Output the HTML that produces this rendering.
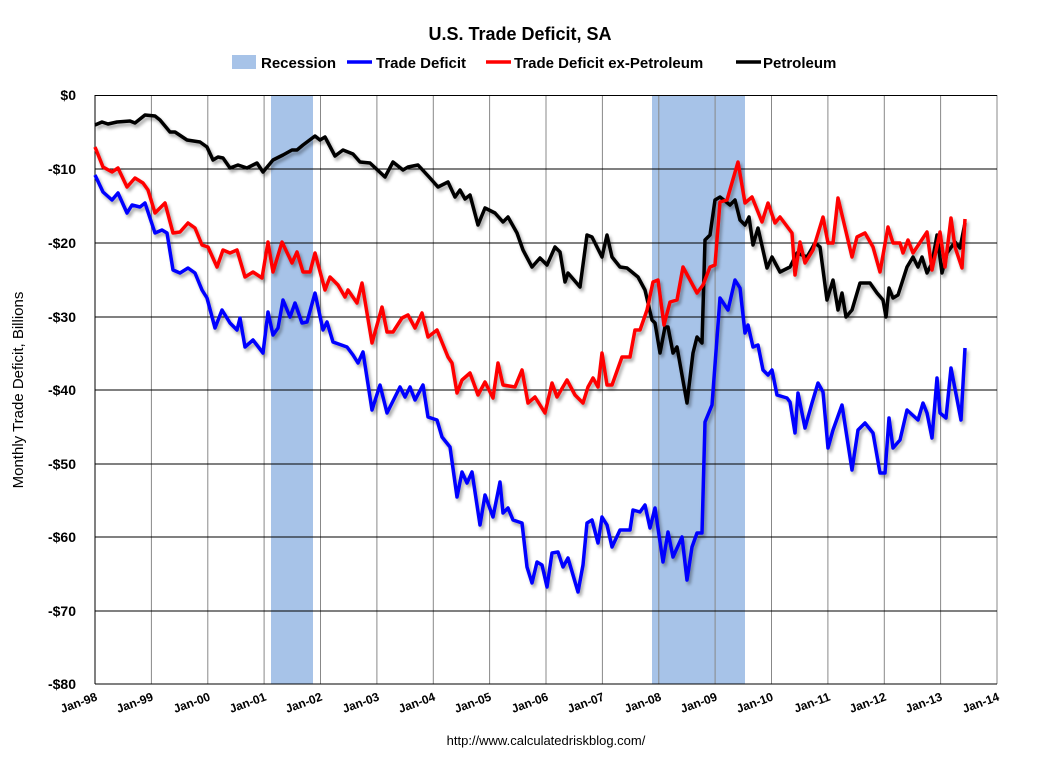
<!DOCTYPE html>
<html><head><meta charset="utf-8"><style>
html,body{margin:0;padding:0;background:#fff;}
svg{display:block;font-family:"Liberation Sans",Arial,sans-serif;}
</style></head><body>
<svg width="1040" height="759" viewBox="0 0 1040 759" xmlns="http://www.w3.org/2000/svg">
<defs>
<filter id="sh" x="-5%" y="-5%" width="110%" height="110%"><feGaussianBlur in="SourceAlpha" stdDeviation="1.5"/><feOffset dx="2" dy="3"/><feComponentTransfer><feFuncA type="linear" slope="0.35"/></feComponentTransfer><feMerge><feMergeNode/><feMergeNode in="SourceGraphic"/></feMerge></filter>
</defs>
<rect width="1040" height="759" fill="#fff"/>
<text x="520" y="40" text-anchor="middle" font-size="18" font-weight="bold">U.S. Trade Deficit, SA</text>
<rect x="232" y="55" width="24" height="14" fill="#a7c3e8"/>
<text x="261" y="68" font-size="15" font-weight="bold">Recession</text>
<line x1="347" y1="62" x2="372" y2="62" stroke="#0000ff" stroke-width="3.5"/>
<text x="376" y="68" font-size="15" font-weight="bold">Trade Deficit</text>
<line x1="486" y1="62" x2="511" y2="62" stroke="#ff0000" stroke-width="3.5"/>
<text x="514" y="68" font-size="15" font-weight="bold">Trade Deficit ex-Petroleum</text>
<line x1="736" y1="62" x2="761" y2="62" stroke="#000" stroke-width="3.5"/>
<text x="763" y="68" font-size="15" font-weight="bold">Petroleum</text>

<rect x="271" y="95" width="42" height="589" fill="#a7c3e8"/>
<rect x="652" y="95" width="93" height="589" fill="#a7c3e8"/>
<g stroke="#888" stroke-width="1">
<line x1="151.4" y1="95" x2="151.4" y2="684"/><line x1="207.8" y1="95" x2="207.8" y2="684"/><line x1="264.1" y1="95" x2="264.1" y2="684"/><line x1="320.5" y1="95" x2="320.5" y2="684"/><line x1="376.9" y1="95" x2="376.9" y2="684"/><line x1="433.3" y1="95" x2="433.3" y2="684"/><line x1="489.6" y1="95" x2="489.6" y2="684"/><line x1="546" y1="95" x2="546" y2="684"/><line x1="602.4" y1="95" x2="602.4" y2="684"/><line x1="658.8" y1="95" x2="658.8" y2="684"/><line x1="715.1" y1="95" x2="715.1" y2="684"/><line x1="771.5" y1="95" x2="771.5" y2="684"/><line x1="827.9" y1="95" x2="827.9" y2="684"/><line x1="884.3" y1="95" x2="884.3" y2="684"/><line x1="940.6" y1="95" x2="940.6" y2="684"/><line x1="997" y1="95" x2="997" y2="684"/>
</g>
<g stroke="#000" stroke-width="1">
<line x1="95" y1="95.5" x2="997" y2="95.5"/><line x1="95" y1="169" x2="997" y2="169"/><line x1="95" y1="243" x2="997" y2="243"/><line x1="95" y1="317" x2="997" y2="317"/><line x1="95" y1="390" x2="997" y2="390"/><line x1="95" y1="464" x2="997" y2="464"/><line x1="95" y1="537" x2="997" y2="537"/><line x1="95" y1="611" x2="997" y2="611"/><line x1="95" y1="684" x2="997" y2="684"/>
<line x1="95" y1="95" x2="95" y2="684"/>
</g>
<g font-size="14" font-weight="bold" text-anchor="end">
<text x="76" y="100">$0</text><text x="76" y="174">-$10</text><text x="76" y="248">-$20</text><text x="76" y="322">-$30</text><text x="76" y="395">-$40</text><text x="76" y="469">-$50</text><text x="76" y="542">-$60</text><text x="76" y="616">-$70</text><text x="76" y="689">-$80</text>
</g>
<text transform="translate(23,390) rotate(-90)" text-anchor="middle" font-size="15">Monthly Trade Deficit, Billions</text>
<g font-size="12" font-weight="bold" text-anchor="end">
<text transform="translate(98,700) rotate(-20)">Jan-98</text><text transform="translate(154,700) rotate(-20)">Jan-99</text><text transform="translate(211,700) rotate(-20)">Jan-00</text><text transform="translate(267,700) rotate(-20)">Jan-01</text><text transform="translate(323,700) rotate(-20)">Jan-02</text><text transform="translate(380,700) rotate(-20)">Jan-03</text><text transform="translate(436,700) rotate(-20)">Jan-04</text><text transform="translate(492,700) rotate(-20)">Jan-05</text><text transform="translate(549,700) rotate(-20)">Jan-06</text><text transform="translate(605,700) rotate(-20)">Jan-07</text><text transform="translate(662,700) rotate(-20)">Jan-08</text><text transform="translate(718,700) rotate(-20)">Jan-09</text><text transform="translate(774,700) rotate(-20)">Jan-10</text><text transform="translate(831,700) rotate(-20)">Jan-11</text><text transform="translate(887,700) rotate(-20)">Jan-12</text><text transform="translate(943,700) rotate(-20)">Jan-13</text><text transform="translate(1000,700) rotate(-20)">Jan-14</text>
</g>
<text x="546" y="745" text-anchor="middle" font-size="13">http://www.calculatedriskblog.com/</text>

<g fill="none" stroke-width="3.5" stroke-linejoin="round" filter="url(#sh)">
<polyline stroke="#000" points="95,125 102,122 108,124 117,122 130,121 135,123 145,115 155,116 160,120 170,132 175,132 187,140 200,142 207,147 213,160 218,157 223,158 230,168 238,165 247,168 257,163 263,172 273,160 283,155 292,150 297,150 303,145 315,136 320,140 325,137 335,156 343,150 353,154 360,162 370,163 385,177 393,162 403,170 408,167 418,165 430,178 438,187 448,182 455,197 460,190 465,199 470,195 478,225 485,208 495,213 503,222 508,217 517,233 523,250 532,267 540,258 547,265 555,247 560,252 565,282 568,273 580,287 587,235 592,237 602,257 607,235 612,257 620,267 627,268 638,277 645,290 652,320 655,323 660,353 665,327 668,327 673,353 677,347 687,403 693,353 697,337 702,343 705,240 710,235 715,200 720,197 730,205 735,200 740,220 745,225 749,217 753,245 758,228 767,268 772,257 780,272 790,267 797,253 807,257 815,243 820,247 827,300 833,280 838,310 842,293 846,317 852,310 860,283 870,283 877,293 883,300 886,317 889,288 893,298 898,295 907,267 913,257 918,267 922,257 927,273 932,263 937,235 942,273 947,253 955,242 960,248 965,223"/>
<polyline stroke="#ff0000" points="95,147 103,167 112,172 118,168 127,187 135,178 143,183 148,190 155,213 165,203 173,233 180,232 188,223 195,228 202,245 208,247 217,267 223,250 230,253 237,250 245,277 253,272 262,278 268,242 273,272 282,242 292,263 297,252 303,272 310,272 315,253 325,290 330,277 338,285 345,297 348,290 357,303 362,283 372,343 382,307 387,332 393,332 402,318 408,315 415,328 422,313 428,337 437,330 448,357 452,363 457,393 462,380 470,373 478,395 485,382 493,398 498,363 503,385 515,387 522,370 528,403 535,397 545,413 552,383 557,397 567,380 575,395 583,403 588,387 593,378 598,387 602,353 607,385 612,385 622,357 630,357 635,330 640,330 647,310 653,282 658,280 664,325 670,302 677,300 683,267 697,293 703,285 710,267 715,265 720,202 727,200 738,162 745,203 752,197 762,222 768,203 775,223 780,217 792,233 795,275 800,242 805,263 813,250 823,217 828,243 833,243 838,198 852,257 857,237 865,233 873,247 880,272 888,227 893,243 900,243 903,253 908,240 913,253 927,232 932,270 940,232 945,267 951,218 955,247 962,268 965,219"/>
<polyline stroke="#0000ff" points="95,175 103,192 112,200 118,193 127,213 132,205 140,207 145,203 155,233 162,230 167,233 173,270 180,273 188,268 195,273 202,290 207,298 215,328 222,310 230,323 237,330 240,318 245,347 253,340 263,353 268,312 273,335 278,328 283,300 290,317 295,303 302,323 307,322 315,293 323,330 327,322 333,342 347,347 353,355 358,363 363,352 372,410 380,385 387,413 400,387 405,397 410,387 415,400 423,385 428,417 437,420 442,437 450,447 457,497 462,472 467,483 472,472 480,525 485,495 493,517 500,482 503,513 508,508 513,520 522,523 527,567 532,583 537,562 542,565 547,587 552,553 558,552 563,567 568,558 578,592 583,565 587,523 592,520 598,543 602,517 607,525 612,547 620,530 630,530 633,510 640,512 645,505 650,528 655,508 663,562 668,532 673,557 682,537 687,580 692,547 697,533 702,533 705,422 712,405 720,298 728,310 735,280 740,288 745,333 748,325 753,347 758,345 763,370 768,375 772,370 777,395 787,398 790,402 795,433 798,393 805,428 812,403 818,383 823,392 828,448 833,430 842,405 852,470 858,430 865,423 873,433 880,473 885,473 889,418 893,448 900,440 907,410 918,420 923,403 927,413 932,438 937,378 940,413 946,418 951,368 961,420 965,348"/>
</g>
</svg>
</body></html>
